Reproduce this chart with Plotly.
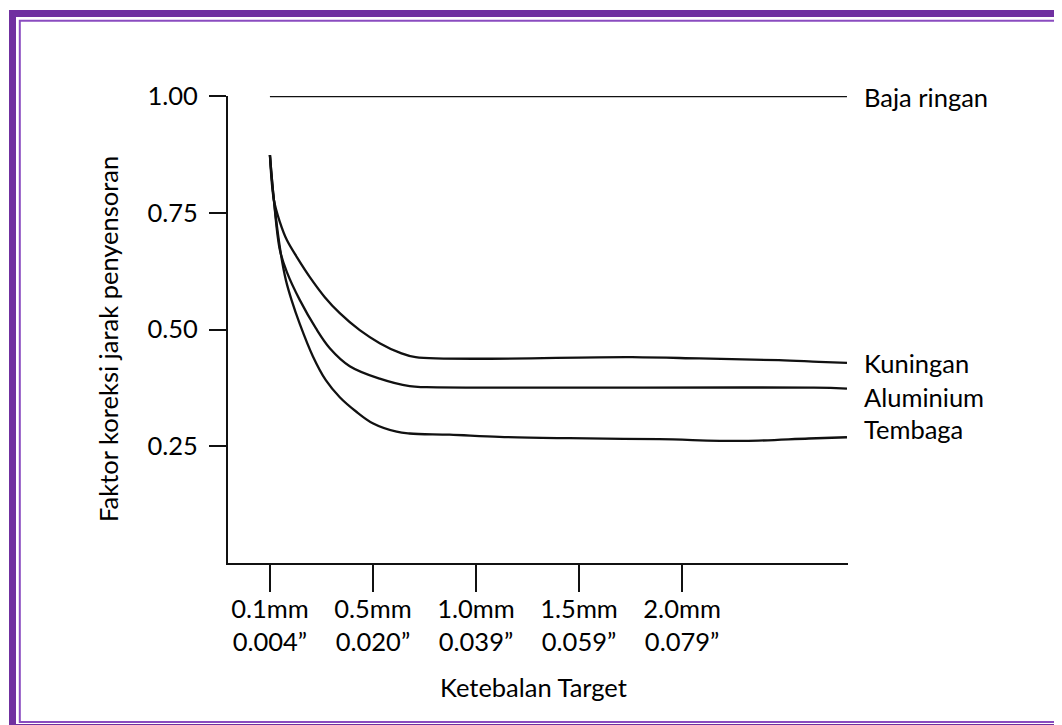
import plotly.graph_objects as go

# ---- data (x = tick index position, y = correction factor) ----
tick_pos = [0, 1, 2, 3, 4]
tick_labels = ["0.1mm<br>0.004”", "0.5mm<br>0.020”", "1.0mm<br>0.039”",
               "1.5mm<br>0.059”", "2.0mm<br>0.079”"]
y_ticks = [0.25, 0.5, 0.75, 1.0]
y_tick_labels = ["0.25", "0.50", "0.75", "1.00"]

baja_x = [0, 5.6]
baja_y = [1.0, 1.0]

kuningan_x = [0, 0.0387, 0.0969, 0.1646, 0.2615, 0.3874, 0.5327, 0.6780, 0.8717,
              1.0654, 1.2591, 1.4140, 3.5157, 4.165, 4.939, 5.327, 5.6]
kuningan_y = [0.8736, 0.7772, 0.7300, 0.6914, 0.6550, 0.6122, 0.5693, 0.5350, 0.4986,
              0.4708, 0.4504, 0.4408, 0.4408, 0.4380, 0.4343, 0.4307, 0.4286]

aluminium_x = [0, 0.0387, 0.0969, 0.1646, 0.2906, 0.4455, 0.5811, 0.7748, 1.0654,
               1.3559, 1.5206, 5.278, 5.6]
aluminium_y = [0.8736, 0.7772, 0.6700, 0.6229, 0.5629, 0.5029, 0.4600, 0.4215, 0.3947,
               0.3786, 0.3765, 0.3754, 0.3736]

tembaga_x = [0, 0.0387, 0.1065, 0.1550, 0.2102, 0.2906, 0.4165, 0.5424, 0.6780, 0.8329,
             0.9976, 1.2300, 1.3559, 1.7433, 2.2276, 2.9056, 3.7772, 4.6005, 5.2300, 5.6]
tembaga_y = [0.8736, 0.7772, 0.6615, 0.6057, 0.5629, 0.5115, 0.4429, 0.3915, 0.3550,
             0.3250, 0.2993, 0.2811, 0.2773, 0.2747, 0.2700, 0.2672, 0.2651, 0.2614,
             0.2666, 0.2693]

series = [
    ("Baja ringan", baja_x, baja_y, -1),
    ("Kuningan", kuningan_x, kuningan_y, 0),
    ("Aluminium", aluminium_x, aluminium_y, -8),
    ("Tembaga", tembaga_x, tembaga_y, 8),
]

FONT = "Lato"
FS = 25.5
INK = "#111111"
TXT = "#000000"
PURPLE = "#7030A0"

# page has an 8px body margin -> figure is drawn at (8, 8)
OFF = 8
W, H = 1062 - OFF, 725 - OFF
L, T = 228 - OFF, 96 - OFF
R, B = W - (848 - OFF), H - (563 - OFF)
PW, PH = W - L - R, H - T - B


def px(x):
    return (x - OFF - L) / PW


def py(y):
    return (H - B - (y - OFF)) / PH


fig = go.Figure()
for name, xs, ys, _ in series:
    fig.add_trace(go.Scatter(
        x=xs, y=ys, mode="lines", name=name,
        line=dict(color=INK, width=2.3, shape="spline", smoothing=1.0),
        cliponaxis=False, showlegend=False,
    ))

annotations = []
for name, xs, ys, dy in series:
    annotations.append(dict(
        x=xs[-1], y=ys[-1], xref="x", yref="y", text=name, showarrow=False,
        xanchor="left", yanchor="middle", xshift=15, yshift=dy,
        font=dict(family=FONT, size=FS, color=TXT),
    ))

annotations.append(dict(
    x=px(108), y=py(339), xref="paper", yref="paper",
    text="Faktor koreksi jarak penyensoran", textangle=-90, showarrow=False,
    xanchor="center", yanchor="middle",
    font=dict(family=FONT, size=FS, color=TXT),
))
annotations.append(dict(
    x=px(533), y=py(687), xref="paper", yref="paper",
    text="Ketebalan Target", showarrow=False,
    xanchor="center", yanchor="middle",
    font=dict(family=FONT, size=FS, color=TXT),
))

shapes = [
    dict(type="rect", xref="paper", yref="paper",
         x0=px(12.5), y0=py(13.5), x1=px(1085), y1=py(727.5),
         line=dict(color=PURPLE, width=7), fillcolor="rgba(0,0,0,0)", layer="below"),
    dict(type="rect", xref="paper", yref="paper",
         x0=px(19.8), y0=py(20.8), x1=px(1075), y1=py(722),
         line=dict(color="#8A4CC0", width=2), fillcolor="rgba(0,0,0,0)", layer="below"),
]

fig.update_layout(
    width=W, height=H,
    margin=dict(l=L, r=R, t=T, b=B),
    paper_bgcolor="white", plot_bgcolor="white",
    annotations=annotations, shapes=shapes,
    xaxis=dict(
        range=[-42 / 103.25, 5.61],
        tickmode="array", tickvals=tick_pos, ticktext=tick_labels,
        showgrid=False, zeroline=False,
        showline=True, linecolor=INK, linewidth=2,
        ticks="outside", ticklen=27, tickwidth=2, tickcolor=INK,
        tickfont=dict(family=FONT, size=FS, color=TXT),
        ticklabelstandoff=-5,
    ),
    yaxis=dict(
        range=[0, 1.0],
        tickmode="array", tickvals=y_ticks, ticktext=y_tick_labels,
        showgrid=False, zeroline=False,
        showline=True, linecolor=INK, linewidth=2,
        ticks="outside", ticklen=17, tickwidth=2, tickcolor=INK,
        tickfont=dict(family=FONT, size=FS, color=TXT),
        ticklabelstandoff=6,
    ),
)

fig.write_html("out.html")
